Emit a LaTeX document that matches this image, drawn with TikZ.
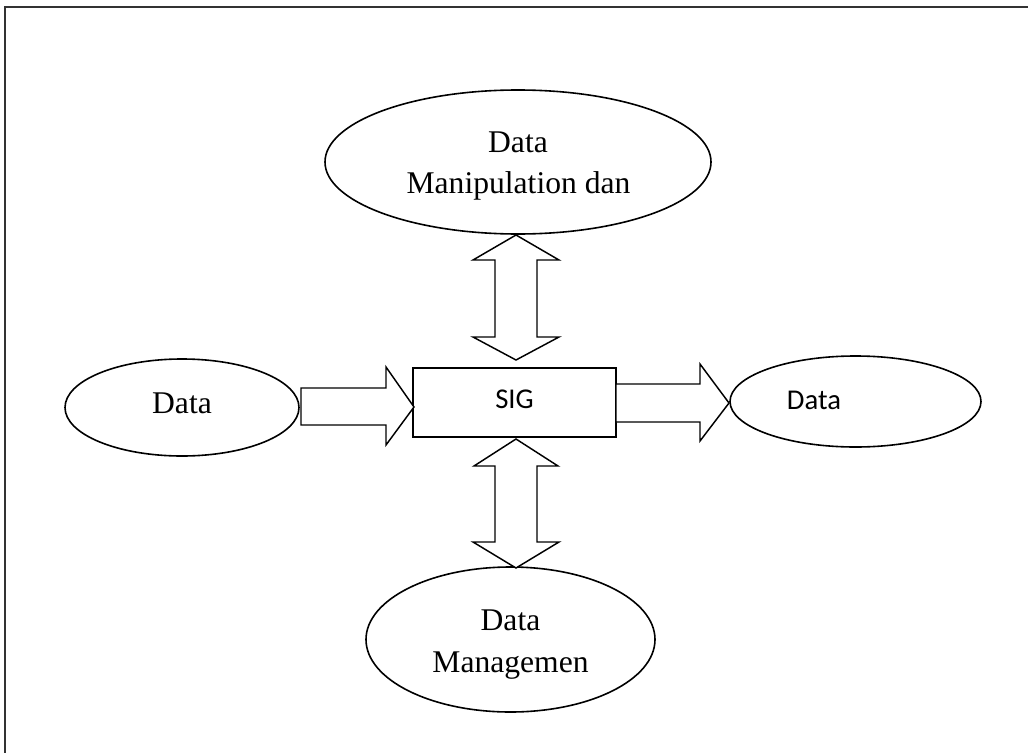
\documentclass[tikz,border=0pt]{standalone}
\usepackage{fontspec}
\setmainfont{Liberation Serif}
\newfontfamily\calibrilike{Carlito}
\usetikzlibrary{shapes.geometric}

\tikzset{
  oval/.style={draw, ellipse, line width=1.2pt, inner sep=0pt},
  procbox/.style={draw, rectangle, line width=1.3pt, inner sep=0pt,
    minimum width=152.25pt, minimum height=51.75pt},
  serif label/.style={anchor=base, inner sep=0pt, font=\fontsize{23.7pt}{28pt}\selectfont},
  sans label/.style={anchor=base, inner sep=0pt, font=\calibrilike\fontsize{21.5pt}{26pt}\selectfont},
  blockarrow/.style={draw, line width=1.1pt, line join=miter, fill=white},
  frameline/.style={draw=black!80, line width=1.1pt}
}

\begin{document}
\begin{tikzpicture}[x=0.75pt, y=-0.75pt]
  \useasboundingbox (0,0) rectangle (1028,753);

  % outer frame (top and left edges)
  \draw[frameline] (1028,7) -- (5,7) -- (5,753);

  % ovals
  \node[oval, minimum width=289.5pt, minimum height=108pt]   (manip)  at (518,162) {};
  \node[oval, minimum width=175.5pt, minimum height=72.75pt] (input)  at (182,407.5) {};
  \node[oval, minimum width=188.25pt, minimum height=68.25pt] (output) at (855.5,401.5) {};
  \node[oval, minimum width=216.75pt, minimum height=108.75pt] (mgmt) at (510.5,639.5) {};

  % central system box
  \node[procbox] (sig) at (514.5,402.5) {};

  % labels
  \node[serif label] (manipA) at (518,152)   {Data};
  \node[serif label] (manipB) at (518.5,193.5) {Manipulation dan};
  \node[serif label] (inputT) at (182,413)   {Data};
  \node[sans label]  (sigT)   at (514.5,408) {SIG};
  \node[sans label]  (outT)   at (814,409)   {Data};
  \node[serif label] (mgmtA)  at (510.5,630) {Data};
  \node[serif label] (mgmtB)  at (510.5,672) {Managemen};

  % input -> SIG
  \draw[blockarrow] (301,388) -- (386,388) -- (386,367) -- (414,407)
    -- (386,445) -- (386,425) -- (301,425) -- cycle;

  % SIG -> output
  \draw[blockarrow] (616,384) -- (700,384) -- (700,364) -- (729,403)
    -- (700,441) -- (700,422) -- (616,422) -- cycle;

  % manipulation <-> SIG
  \draw[blockarrow] (516,235) -- (559,260) -- (537,260) -- (537,337)
    -- (559,337) -- (516,360) -- (473,337) -- (495,337)
    -- (495,260) -- (473,260) -- cycle;

  % SIG <-> management
  \draw[blockarrow] (516,439) -- (558,466) -- (537,466) -- (537,542)
    -- (559,542) -- (516,568) -- (473,542) -- (495,542)
    -- (495,466) -- (474,466) -- cycle;
\end{tikzpicture}
\end{document}
